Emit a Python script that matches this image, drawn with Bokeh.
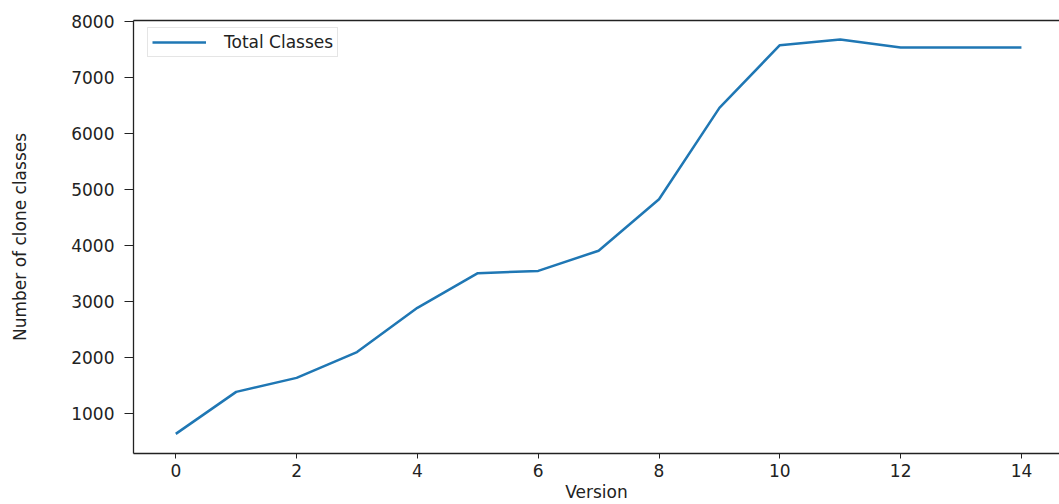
from bokeh.plotting import figure
from bokeh.models import LinearAxis, FixedTicker, Legend, LegendItem, Range1d
from bokeh.embed import file_html
from bokeh.resources import INLINE

versions = list(range(15))
total_classes = [630, 1380, 1630, 2090, 2880, 3500, 3540, 3900, 4820, 6450, 7570, 7670, 7530, 7530, 7530]
x_ticks = [0, 2, 4, 6, 8, 10, 12, 14]
y_ticks = [1000, 2000, 3000, 4000, 5000, 6000, 7000, 8000]

FONT = "DejaVu Sans"

p = figure(width=1059, height=504, output_backend="svg", toolbar_location=None,
           x_range=Range1d(-0.7, 14.63), y_range=Range1d(280, 8010),
           min_border_left=133, min_border_right=0, min_border_top=20, min_border_bottom=47)
p.outline_line_color = None
p.xgrid.visible = False
p.ygrid.visible = False
p.background_fill_color = "white"
p.border_fill_color = "white"

r = p.line(versions, total_classes, line_color="#1f77b4", line_width=2.5)

for ax in p.xaxis:
    ax.ticker = FixedTicker(ticks=x_ticks)
    ax.axis_label = "Version"
    ax.major_tick_out = 5
    ax.major_tick_in = 0
    ax.minor_tick_out = 0
    ax.minor_tick_in = 0
    ax.major_label_standoff = 5
    ax.axis_label_standoff = 2
for ax in p.yaxis:
    ax.ticker = FixedTicker(ticks=y_ticks)
    ax.axis_label = "Number of clone classes"
    ax.major_tick_out = 9
    ax.major_tick_in = 0
    ax.minor_tick_out = 0
    ax.minor_tick_in = 0
    ax.major_label_standoff = 10
    ax.axis_label_standoff = 38
for ax in list(p.xaxis) + list(p.yaxis):
    ax.axis_line_color = "#222222"
    ax.axis_line_width = 1.3
    ax.major_tick_line_color = "#222222"
    ax.major_label_text_font = FONT
    ax.major_label_text_font_size = "17px"
    ax.major_label_text_color = "#222222"
    ax.axis_label_text_font = FONT
    ax.axis_label_text_font_size = "17px"
    ax.axis_label_text_font_style = "normal"
    ax.axis_label_text_color = "#222222"

top = LinearAxis(ticker=FixedTicker(ticks=[]), major_label_text_font_size="0px",
                 major_tick_out=0, major_tick_in=0, minor_tick_out=0, minor_tick_in=0,
                 axis_line_color="#222222", axis_line_width=1.3)
p.add_layout(top, "above")

legend = Legend(items=[LegendItem(label="Total Classes", renderers=[r])],
                location=(14, 396), margin=0)
legend.label_text_font = FONT
legend.label_text_font_size = "17px"
legend.label_text_color = "#222222"
legend.glyph_width = 54
legend.label_standoff = 18
legend.padding = 4
legend.border_line_color = "#cccccc"
legend.border_line_width = 1
legend.background_fill_alpha = 0.9
p.add_layout(legend)

open("out.html", "w").write(file_html(p, INLINE))
